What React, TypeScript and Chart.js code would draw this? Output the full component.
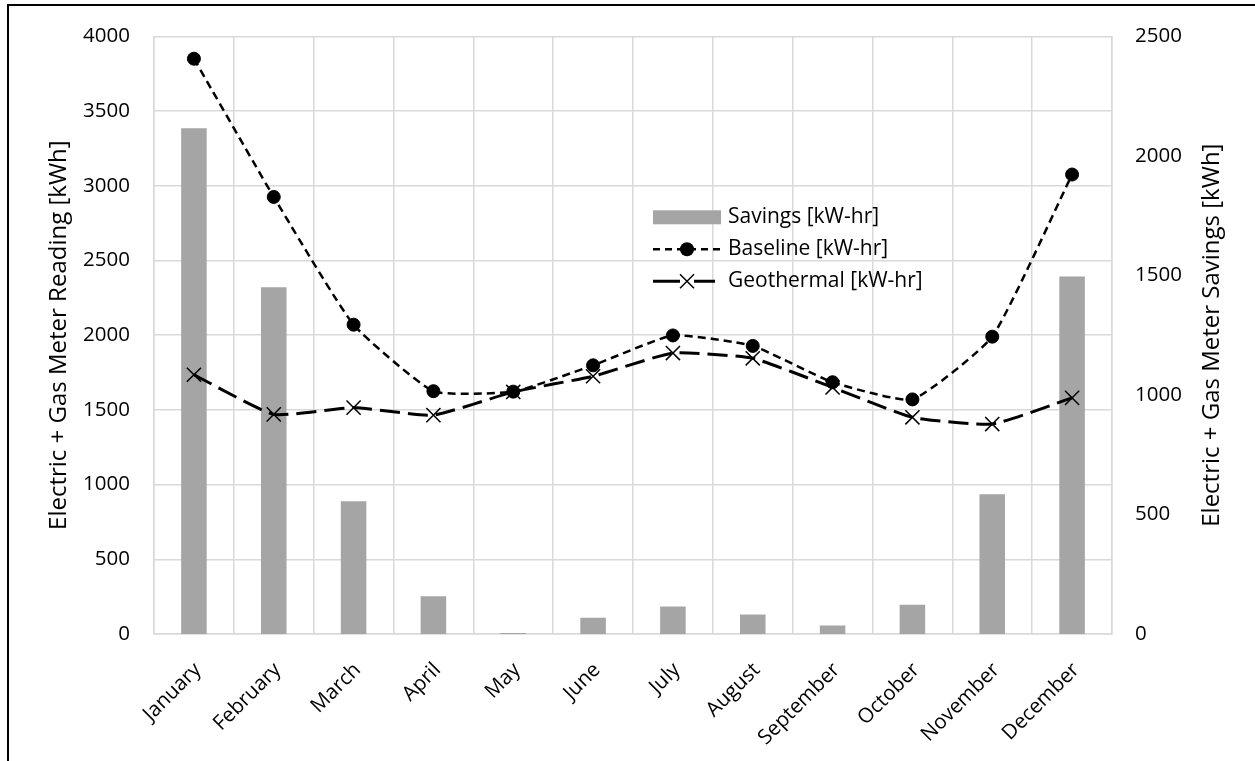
import React, { useEffect, useRef } from "react";
import { Chart, registerables } from "chart.js";

Chart.register(...registerables);

const months = ["January", "February", "March", "April", "May", "June", "July", "August", "September", "October", "November", "December"];
const savings = [2115, 1450, 555, 158, 4, 68, 115, 82, 36, 122, 585, 1495];
const baseline = [3850, 2925, 2070, 1625, 1622, 1798, 1998, 1928, 1685, 1570, 1990, 3075];
const geothermal = [1735, 1470, 1515, 1465, 1620, 1725, 1880, 1845, 1650, 1450, 1405, 1580];
const leftTickLabels = ["0", "500", "1000", "1500", "2000", "2500", "3000", "3500", "4000"];
const rightTickLabels = ["0", "500", "1000", "1500", "2000", "2500"];

const leftTitle = "Electric + Gas Meter Reading [kWh]";
const rightTitle = "Electric + Gas Meter Savings [kWh]";
const seriesNames = ["Savings [kW-hr]", "Baseline [kW-hr]", "Geothermal [kW-hr]"];

const FONT = "'Open Sans', 'Noto Sans', sans-serif";
const TICK_SIZE = 20.5;
const TITLE_SIZE = 24;
const GRID = "#d9d9d9";
const BAR = "#a5a5a5";

const extras = {
  id: "extras",
  afterDraw(chart: any) {
    const { ctx, chartArea } = chart;
    ctx.save();
    ctx.fillStyle = "#000";
    ctx.font = `${TITLE_SIZE}px ${FONT}`;
    ctx.textAlign = "center";
    ctx.textBaseline = "middle";
    ctx.translate(1212, (chartArea.top + chartArea.bottom) / 2);
    ctx.rotate(-Math.PI / 2);
    ctx.fillText(rightTitle, 0, 0);
    ctx.restore();

    ctx.save();
    const lx = chartArea.left + 499;
    const tx = lx + 75;
    const rows = [chartArea.top + 181, chartArea.top + 213, chartArea.top + 245];
    ctx.font = `21px ${FONT}`;
    ctx.textAlign = "left";
    ctx.textBaseline = "middle";
    ctx.fillStyle = BAR;
    ctx.fillRect(lx, rows[0] - 7, 68, 14);
    ctx.strokeStyle = "#000";
    ctx.lineWidth = 2.5;
    ctx.setLineDash([7, 5]);
    ctx.beginPath();
    ctx.moveTo(lx, rows[1]);
    ctx.lineTo(lx + 68, rows[1]);
    ctx.stroke();
    ctx.setLineDash([]);
    ctx.fillStyle = "#000";
    ctx.beginPath();
    ctx.arc(lx + 34, rows[1], 7, 0, Math.PI * 2);
    ctx.fill();
    ctx.lineWidth = 3;
    ctx.beginPath();
    ctx.moveTo(lx, rows[2]);
    ctx.lineTo(lx + 27, rows[2]);
    ctx.moveTo(lx + 41, rows[2]);
    ctx.lineTo(lx + 62, rows[2]);
    ctx.stroke();
    ctx.lineWidth = 1.5;
    ctx.beginPath();
    ctx.moveTo(lx + 34 - 7, rows[2] - 7);
    ctx.lineTo(lx + 34 + 7, rows[2] + 7);
    ctx.moveTo(lx + 34 + 7, rows[2] - 7);
    ctx.lineTo(lx + 34 - 7, rows[2] + 7);
    ctx.stroke();
    ctx.fillStyle = "#000";
    seriesNames.forEach((n, i) => ctx.fillText(n, tx, rows[i]));
    ctx.restore();
  },
};

export default function App() {
  const ref = useRef<HTMLCanvasElement | null>(null);
  useEffect(() => {
    if (!ref.current) return;
    Chart.defaults.font.family = FONT;
    const chart = new Chart(ref.current, {
      type: "bar",
      data: {
        labels: months,
        datasets: [
          {
            type: "line",
            label: seriesNames[1],
            data: baseline,
            yAxisID: "y",
            borderColor: "#000",
            backgroundColor: "#000",
            borderWidth: 2.5,
            borderDash: [8, 5],
            tension: 0.15,
            pointStyle: "circle",
            pointRadius: 6.5,
            pointBorderWidth: 1,
            pointBackgroundColor: "#000",
            pointBorderColor: "#000",
            order: 1,
          } as any,
          {
            type: "line",
            label: seriesNames[2],
            data: geothermal,
            yAxisID: "y",
            borderColor: "#000",
            backgroundColor: "#000",
            borderWidth: 3,
            borderDash: [20, 8],
            tension: 0.15,
            pointStyle: "crossRot",
            pointRadius: 10,
            pointBorderWidth: 1.5,
            pointBorderColor: "#000",
            order: 2,
          } as any,
          {
            type: "bar",
            label: seriesNames[0],
            data: savings,
            yAxisID: "y1",
            backgroundColor: BAR,
            barPercentage: 0.32,
            categoryPercentage: 1,
            order: 3,
          },
        ],
      },
      options: {
        responsive: false,
        animation: false,
        events: [],
        layout: { padding: { top: 34, left: 0, right: 0, bottom: 0 } },
        plugins: { legend: { display: false }, tooltip: { enabled: false }, title: { display: false } },
        scales: {
          x: {
            afterFit: (s: any) => { s.height = 127; },
            grid: { color: GRID, lineWidth: 1.5, drawTicks: false, offset: true },
            border: { color: GRID, width: 1.5 },
            ticks: {
              color: "#000",
              font: { size: TICK_SIZE },
              maxRotation: 45,
              minRotation: 45,
              autoSkip: false,
              padding: 24,
              labelOffset: 4,
            },
          },
          y: {
            position: "left",
            min: 0,
            max: 4000,
            afterFit: (s: any) => { s.width = 154; },
            grid: { color: GRID, lineWidth: 1.5, drawTicks: false },
            border: { color: GRID, width: 1.5 },
            ticks: {
              stepSize: 500,
              color: "#000",
              font: { size: TICK_SIZE },
              padding: 24,
              callback: (_v: any, i: number) => leftTickLabels[i],
            },
            title: {
              display: true,
              text: leftTitle,
              color: "#000",
              font: { size: TITLE_SIZE },
              padding: { top: 44.6, bottom: 0 },
            },
          },
          y1: {
            position: "right",
            min: 0,
            max: 2500,
            afterFit: (s: any) => { s.width = 143; },
            grid: { display: false, drawTicks: false },
            border: { color: GRID, width: 1.5 },
            ticks: {
              stepSize: 500,
              color: "#000",
              font: { size: TICK_SIZE },
              padding: 23,
              callback: (_v: any, i: number) => rightTickLabels[i],
            },
          },
        },
      },
      plugins: [extras],
    });
    return () => chart.destroy();
  }, []);

  return (
    <>
      <div
        style={{
          position: "fixed",
          left: 7,
          top: 4,
          width: 1248,
          height: 757,
          borderLeft: "2px solid #000",
          borderTop: "2px solid #000",
          boxSizing: "border-box",
          pointerEvents: "none",
        }}
      />
      <canvas
        ref={ref}
        width={1255}
        height={761}
        style={{ position: "fixed", left: 0, top: 0, width: 1255, height: 761 }}
      />
    </>
  );
}
